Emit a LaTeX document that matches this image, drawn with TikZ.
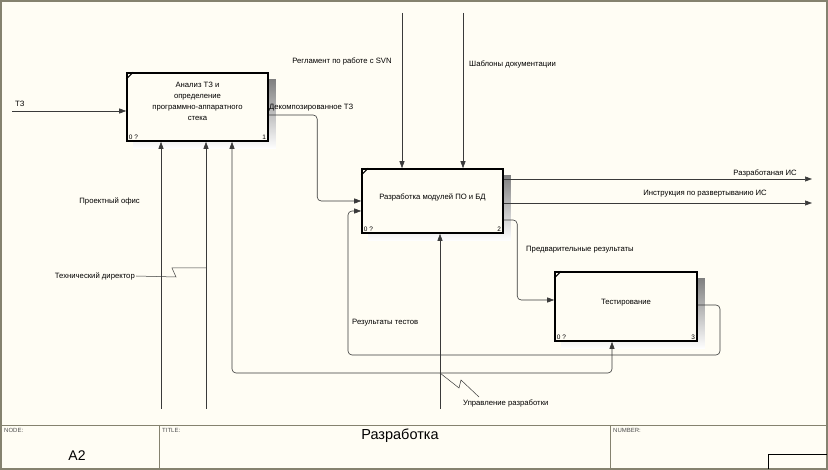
\documentclass[tikz,border=0pt]{standalone}
\usepackage{fontspec}
\setmainfont{Liberation Sans}
\usepackage{tikz}
\usetikzlibrary{arrows.meta,calc,positioning,backgrounds}
\definecolor{paper}{HTML}{FFFDF4}
\definecolor{framegray}{HTML}{85826F}
\definecolor{wire}{HTML}{3A3A3A}
\definecolor{shade}{HTML}{B2B2AA}

\begin{document}
\begin{tikzpicture}[x=1pt, y=-1pt, >={Triangle[length=7pt,width=5pt]},
  fn/.style={draw, line width=1.6pt, fill=paper, align=center, inner sep=2pt, font=\fontsize{7.7}{11}\selectfont},
  num/.style={font=\fontsize{6.5}{7}\selectfont, inner sep=2.5pt},
  lbl/.style={font=\fontsize{7.7}{8}\selectfont, inner sep=1pt},
  cell/.style={font=\fontsize{6}{7}\selectfont, inner sep=1pt, text=black!70},
  flow/.style={draw=wire, line width=0.6pt, rounded corners=4pt, ->},
  bolt/.style={draw=wire, line width=0.5pt}]
  \useasboundingbox (0,0) rectangle (828,470);
  \node[fn, minimum width=141pt, minimum height=68pt, label={[font=\fontsize{7.7}{11}\selectfont, align=center, yshift=6pt]center:Анализ ТЗ и\\определение\\программно-аппаратного\\стека}, label={[num, anchor=south west]south west:0 ?}, label={[num, anchor=south east]south east:1}] (a1) at (197.5,107) {};
  \node[fn, minimum width=141pt, minimum height=64pt, text depth=8pt, label={[num, anchor=south west]south west:0 ?}, label={[num, anchor=south east]south east:2}] (a2) at (432.5,201) {Разработка модулей ПО и БД};
  \node[fn, minimum width=142pt, minimum height=69pt, text depth=10pt, label={[num, anchor=south west]south west:0 ?}, label={[num, anchor=south east]south east:3}] (a3) at (626,306.5) {Тестирование};
  \foreach \b in {a1,a2,a3}
    \draw[line width=1pt] ([yshift=-7pt]\b.north west) -- ([xshift=7pt]\b.north west);
  \begin{scope}[on background layer]
    \fill[paper] (0,0) rectangle (828,470);
    \foreach \b in {a1,a2,a3}
      \fill[shade] ([shift={(7pt,-7pt)}]\b.south west) rectangle ([shift={(7pt,-7pt)}]\b.north east);
  \end{scope}

  \coordinate (tz) at (12,111);
  \coordinate (c1) at (402,13);
  \coordinate (c2) at (463,13);
  \coordinate (o1) at (812,179);
  \coordinate (o2) at (812,203);
  \coordinate (m1) at (161,409);
  \coordinate (m2) at (206,409);
  \coordinate (m3) at (440,409);
  \coordinate (j) at (440,373);

  \node[lbl, anchor=west] (ltz) at (14,104) {ТЗ};
  \node[lbl, anchor=west] (ldec) at (268,108) {Декомпозированное ТЗ};
  \node[lbl] (lreg) at (342,61) {Регламент по работе с SVN};
  \node[lbl, anchor=west] (lshab) at (468,64) {Шаблоны документации};
  \node[lbl, anchor=east] (lis) at (798,173) {Разработаная ИС};
  \node[lbl, anchor=east] (linstr) at (768,194) {Инструкция по развертыванию ИС};
  \node[lbl, anchor=west] (lpre) at (525,250) {Предварительные результаты};
  \node[lbl, anchor=west] (lres) at (351,323) {Результаты тестов};
  \node[lbl, anchor=east] (loff) at (141,201) {Проектный офис};
  \node[lbl, anchor=east] (ltech) at (136,276) {Технический директор};
  \node[lbl, anchor=west] (lupr) at (462,403) {Управление разработки};

  \draw[flow] (tz) -- (tz -| a1.west);
  \draw[flow] ([yshift=-8pt]a1.east) -| ([xshift=-44pt]a2.west) -- (a2.west);
  \draw[flow] (c1) -- (c1 |- a2.north);
  \draw[flow] (c2) -- (c2 |- a2.north);
  \draw[flow] (o1 -| a2.east) -- (o1);
  \draw[flow] (o2 -| a2.east) -- (o2);
  \draw[flow] ([yshift=-19pt]a2.east) -| ([xshift=-37pt,yshift=6.5pt]a3.west) -- ([yshift=6.5pt]a3.west);
  \draw[flow] ([yshift=1.5pt]a3.east) -| (720,355) -| (348,211) -- ([yshift=-10pt]a2.west);
  \draw[flow] (m3) -- (m3 |- a2.south);
  \draw[flow] (j) -| ([xshift=34.5pt]a1.south);
  \draw[flow] (j) -| ([xshift=-14pt]a3.south);
  \draw[flow] (m1) -- (m1 |- a1.south);
  \draw[flow] (m2) -- (m2 |- a1.south);
  \draw[bolt] (ltech.east) -- (176,277) -- (172,268) -- (m2 |- 0,268);
  \draw[bolt] (j) -- (459,388) -- (461,380) -- (479,397);

  \draw[framegray, line width=2pt] (1,1) rectangle (827,469);
  \draw[framegray, line width=0.8pt] (1,425) -- (827,425) (159,425) -- (159,469) (610,425) -- (610,469);
  \draw[line width=0.8pt] (768,469) -- (768,454) -- (827,454);
  \node[cell, anchor=north west] (node) at (3,427) {NODE:};
  \node[cell, anchor=north west] (title) at (161,427) {TITLE:};
  \node[cell, anchor=north west] (number) at (612,427) {NUMBER:};
  \node[font=\fontsize{14}{15}\selectfont] (a2id) at (77,456) {A2};
  \node[font=\fontsize{14.5}{15}\selectfont] (tname) at (400,436) {Разработка};
\end{tikzpicture}
\end{document}
